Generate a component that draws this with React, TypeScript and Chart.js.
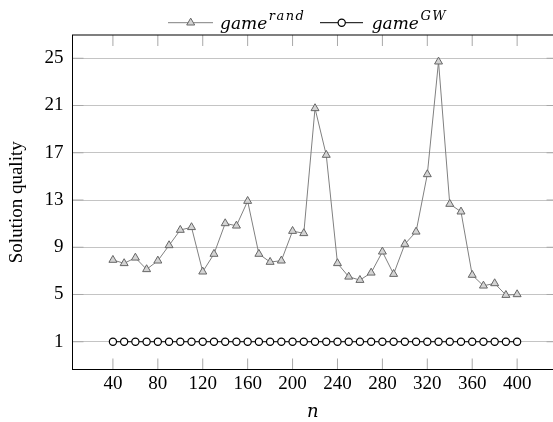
import React, { useEffect, useRef } from 'react';
import { Chart, registerables } from 'chart.js';

Chart.register(...registerables);

const nValues = [40, 50, 60, 70, 80, 90, 100, 110, 120, 130, 140, 150, 160, 170, 180, 190, 200, 210, 220, 230, 240, 250, 260, 270, 280, 290, 300, 310, 320, 330, 340, 350, 360, 370, 380, 390, 400];
const randQuality = [7.92, 7.64, 8.11, 7.13, 7.86, 9.16, 10.46, 10.69, 6.93, 8.43, 11.02, 10.82, 12.91, 8.43, 7.75, 7.86, 10.37, 10.18, 20.76, 16.81, 7.64, 6.5, 6.22, 6.84, 8.62, 6.73, 9.27, 10.31, 15.17, 24.71, 12.66, 12.01, 6.65, 5.74, 5.94, 4.95, 5.01];
const gwQuality = [1, 1, 1, 1, 1, 1, 1, 1, 1, 1, 1, 1, 1, 1, 1, 1, 1, 1, 1, 1, 1, 1, 1, 1, 1, 1, 1, 1, 1, 1, 1, 1, 1, 1, 1, 1, 1];
const xTicks = [40, 80, 120, 160, 200, 240, 280, 320, 360, 400];
const yTicks = [1, 5, 9, 13, 17, 21, 25];

// axis limits: the plotted frame runs from 4 to 436, the picture is cut at about 432
const X_MIN = 4;
const X_FRAME_MAX = 436;
const X_VISIBLE_MAX = 431.95;

const TICK_LEN = 11;
const MATH_FONT = '"DejaVu Serif"';
const TEXT_FONT = '"Liberation Serif"';

const framePlugin = {
  id: 'frame',
  beforeDatasetsDraw(chart: any) {
    const { ctx, chartArea, scales } = chart;
    const { left, top, bottom } = chartArea;
    const right = scales.x.getPixelForValue(X_FRAME_MAX);
    ctx.save();
    ctx.strokeStyle = '#a8a8a8';
    ctx.lineWidth = 1;
    ctx.beginPath();
    for (const v of xTicks) {
      const px = scales.x.getPixelForValue(v);
      ctx.moveTo(px, bottom);
      ctx.lineTo(px, bottom - TICK_LEN);
      ctx.moveTo(px, top);
      ctx.lineTo(px, top + TICK_LEN);
    }
    for (const v of yTicks) {
      const py = scales.y.getPixelForValue(v);
      ctx.moveTo(left, py);
      ctx.lineTo(left + TICK_LEN, py);
      ctx.moveTo(right, py);
      ctx.lineTo(right - TICK_LEN, py);
    }
    ctx.stroke();
    ctx.restore();
  },
  afterDatasetsDraw(chart: any) {
    const { ctx, chartArea, scales } = chart;
    const { left, top, bottom } = chartArea;
    const right = scales.x.getPixelForValue(X_FRAME_MAX);
    ctx.save();
    ctx.strokeStyle = '#000';
    ctx.lineWidth = 1;
    ctx.strokeRect(left, top, right - left, bottom - top);
    ctx.restore();
  },
  afterDraw(chart: any) {
    const { ctx } = chart;
    ctx.save();
    const ly = 22.7;
    // entry 1
    ctx.strokeStyle = '#808080';
    ctx.lineWidth = 1;
    ctx.beginPath();
    ctx.moveTo(168, ly);
    ctx.lineTo(213, ly);
    ctx.stroke();
    const r = 4.6;
    const cx = 190.7;
    ctx.beginPath();
    for (let i = 0; i < 3; i++) {
      const a = (i * 2 * Math.PI) / 3;
      const px = cx + Math.sin(a) * r;
      const py = ly - Math.cos(a) * r;
      if (i === 0) ctx.moveTo(px, py);
      else ctx.lineTo(px, py);
    }
    ctx.closePath();
    ctx.fillStyle = '#d4d4d4';
    ctx.fill();
    ctx.strokeStyle = '#666';
    ctx.stroke();

    const drawLabel = (x: number, sup: string) => {
      ctx.fillStyle = '#000';
      ctx.textBaseline = 'alphabetic';
      ctx.textAlign = 'left';
      ctx.font = `italic 17px ${MATH_FONT}`;
      (ctx as any).letterSpacing = '0px';
      ctx.fillText('game', x, 29.3);
      const w = ctx.measureText('game').width;
      ctx.font = `italic 13px ${MATH_FONT}`;
      (ctx as any).letterSpacing = '1.5px';
      ctx.fillText(sup, x + w + 1.5, 20);
      (ctx as any).letterSpacing = '0px';
    };
    drawLabel(220, 'rand');

    // entry 2
    ctx.strokeStyle = '#000';
    ctx.lineWidth = 1;
    ctx.beginPath();
    ctx.moveTo(320, ly);
    ctx.lineTo(363, ly);
    ctx.stroke();
    ctx.beginPath();
    ctx.arc(341.7, ly, 3.6, 0, Math.PI * 2);
    ctx.fillStyle = '#fff';
    ctx.fill();
    ctx.lineWidth = 1.2;
    ctx.stroke();
    drawLabel(371.7, 'GW');
    ctx.restore();
  },
};

export default function App() {
  const canvasRef = useRef<HTMLCanvasElement | null>(null);

  useEffect(() => {
    const canvas = canvasRef.current;
    if (!canvas) return;
    const chart = new Chart(canvas, {
      type: 'line',
      data: {
        datasets: [
          {
            label: 'game^rand',
            data: nValues.map((n, i) => ({ x: n, y: randQuality[i] })),
            borderColor: '#808080',
            borderWidth: 1,
            pointStyle: 'triangle',
            pointRadius: 4.6,
            pointBackgroundColor: '#d4d4d4',
            pointBorderColor: '#666',
            pointBorderWidth: 1,
            tension: 0,
          },
          {
            label: 'game^GW',
            data: nValues.map((n, i) => ({ x: n, y: gwQuality[i] })),
            borderColor: '#000',
            borderWidth: 1,
            pointStyle: 'circle',
            pointRadius: 3.6,
            pointBackgroundColor: '#fff',
            pointBorderColor: '#000',
            pointBorderWidth: 1.2,
            tension: 0,
          },
        ],
      },
      options: {
        animation: false,
        responsive: false,
        devicePixelRatio: 1,
        layout: { autoPadding: false, padding: { top: 35, left: 0, right: 0, bottom: 0 } },
        plugins: { legend: { display: false }, tooltip: { enabled: false } },
        scales: {
          x: {
            type: 'linear',
            position: 'bottom',
            min: X_MIN,
            max: X_VISIBLE_MAX,
            afterBuildTicks: (scale: any) => {
              scale.ticks = xTicks.map((v) => ({ value: v }));
            },
            afterFit: (scale: any) => {
              scale.height = 52.5;
            },
            grid: { display: false, drawTicks: false },
            border: { display: false },
            ticks: {
              autoSkip: false,
              maxRotation: 0,
              padding: 3,
              color: '#000',
              font: { family: TEXT_FONT, size: 19 },
              callback: (v: any) => String(v),
            },
            title: {
              display: true,
              text: 'n',
              color: '#000',
              font: { family: MATH_FONT, style: 'italic', size: 18, lineHeight: 1 },
              padding: { top: 0, bottom: 1 },
            },
          },
          y: {
            type: 'linear',
            position: 'left',
            min: -1.35,
            max: 26.97,
            afterBuildTicks: (scale: any) => {
              scale.ticks = yTicks.map((v) => ({ value: v }));
            },
            afterFit: (scale: any) => {
              scale.width = 72.5;
            },
            grid: { display: true, drawTicks: false, color: '#c4c4c4', lineWidth: 1 },
            border: { display: false },
            ticks: {
              autoSkip: false,
              padding: 9,
              color: '#000',
              font: { family: TEXT_FONT, size: 19 },
              callback: (v: any) => String(v),
            },
            title: {
              display: true,
              text: 'Solution quality',
              color: '#000',
              font: { family: TEXT_FONT, size: 19, lineHeight: 1.2 },
              padding: { top: 6, bottom: 0 },
            },
          },
        },
      },
      plugins: [framePlugin],
    } as any);
    return () => chart.destroy();
  }, []);

  return (
    <div style={{ position: 'absolute', left: 0, top: 0, width: 553, height: 422, overflow: 'hidden', background: '#fff' }}>
      <canvas ref={canvasRef} width={553} height={422} style={{ display: 'block' }} />
    </div>
  );
}
